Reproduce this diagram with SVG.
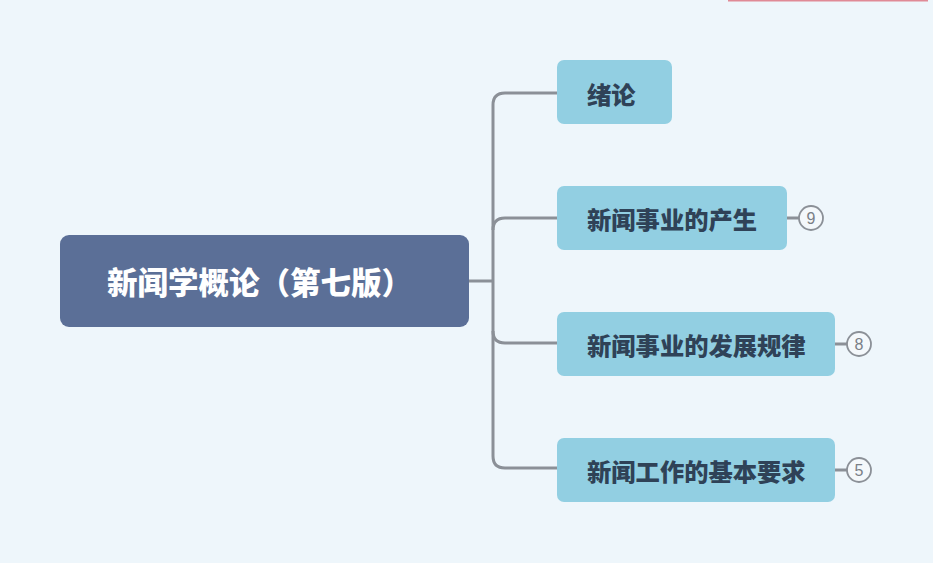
<svg xmlns="http://www.w3.org/2000/svg" width="933" height="563" viewBox="0 0 933 563">
<style>
.child rect{fill:#92cfe2;}
.child text{font-family:"Noto Sans CJK SC","Noto Sans",sans-serif;font-weight:900;font-size:24.3px;fill:#2f4257;dominant-baseline:central;}
.root text{font-family:"Noto Sans CJK SC","Noto Sans",sans-serif;font-weight:900;font-size:30.5px;fill:#ffffff;dominant-baseline:central;}
.conn{fill:none;stroke:#8b9097;stroke-width:3;}
.badge circle{fill:#f4f8fb;stroke:#8b9097;stroke-width:1.8;}
.badge text{font-family:"Liberation Sans",Arial,sans-serif;font-size:16px;fill:#7a7f86;text-anchor:middle;dominant-baseline:central;}
</style>
<rect x="0" y="0" width="933" height="563" fill="#eef6fb"/>
<rect x="728" y="0" width="200" height="1.5" fill="#e08a96"/>
<g id="connectors">
<path class="conn" d="M469,281 H493"/>
<path class="conn" d="M557,93 H505 Q493,93 493,105 V456 Q493,468 505,468 H557"/>
<path class="conn" d="M493,230 Q493,218 505,218 H557"/>
<path class="conn" d="M493,331 Q493,343 505,343 H557"/>
<path class="conn" d="M787,218 H799"/>
<path class="conn" d="M835,344 H847"/>
<path class="conn" d="M835,470 H847"/>
</g>
<g id="root" class="root">
<rect x="60" y="235" width="409" height="92" rx="9" fill="#5b6f97"/>
<text x="107" y="281">新闻学概论（第七版）</text>
</g>
<g id="n1" class="child">
<rect x="557" y="60" width="115" height="64" rx="7"/>
<text x="587" y="93">绪论</text>
</g>
<g id="n2" class="child">
<rect x="557" y="186" width="230" height="64" rx="7"/>
<text x="587" y="218">新闻事业的产生</text>
</g>
<g id="n3" class="child">
<rect x="557" y="312" width="278" height="64" rx="7"/>
<text x="587" y="344">新闻事业的发展规律</text>
</g>
<g id="n4" class="child">
<rect x="557" y="438" width="278" height="64" rx="7"/>
<text x="587" y="470">新闻工作的基本要求</text>
</g>
<g id="b2" class="badge">
<circle cx="811" cy="218" r="12"/>
<text x="811" y="218">9</text>
</g>
<g id="b3" class="badge">
<circle cx="859" cy="344" r="12"/>
<text x="859" y="344">8</text>
</g>
<g id="b4" class="badge">
<circle cx="859" cy="470" r="12"/>
<text x="859" y="470">5</text>
</g>
</svg>
